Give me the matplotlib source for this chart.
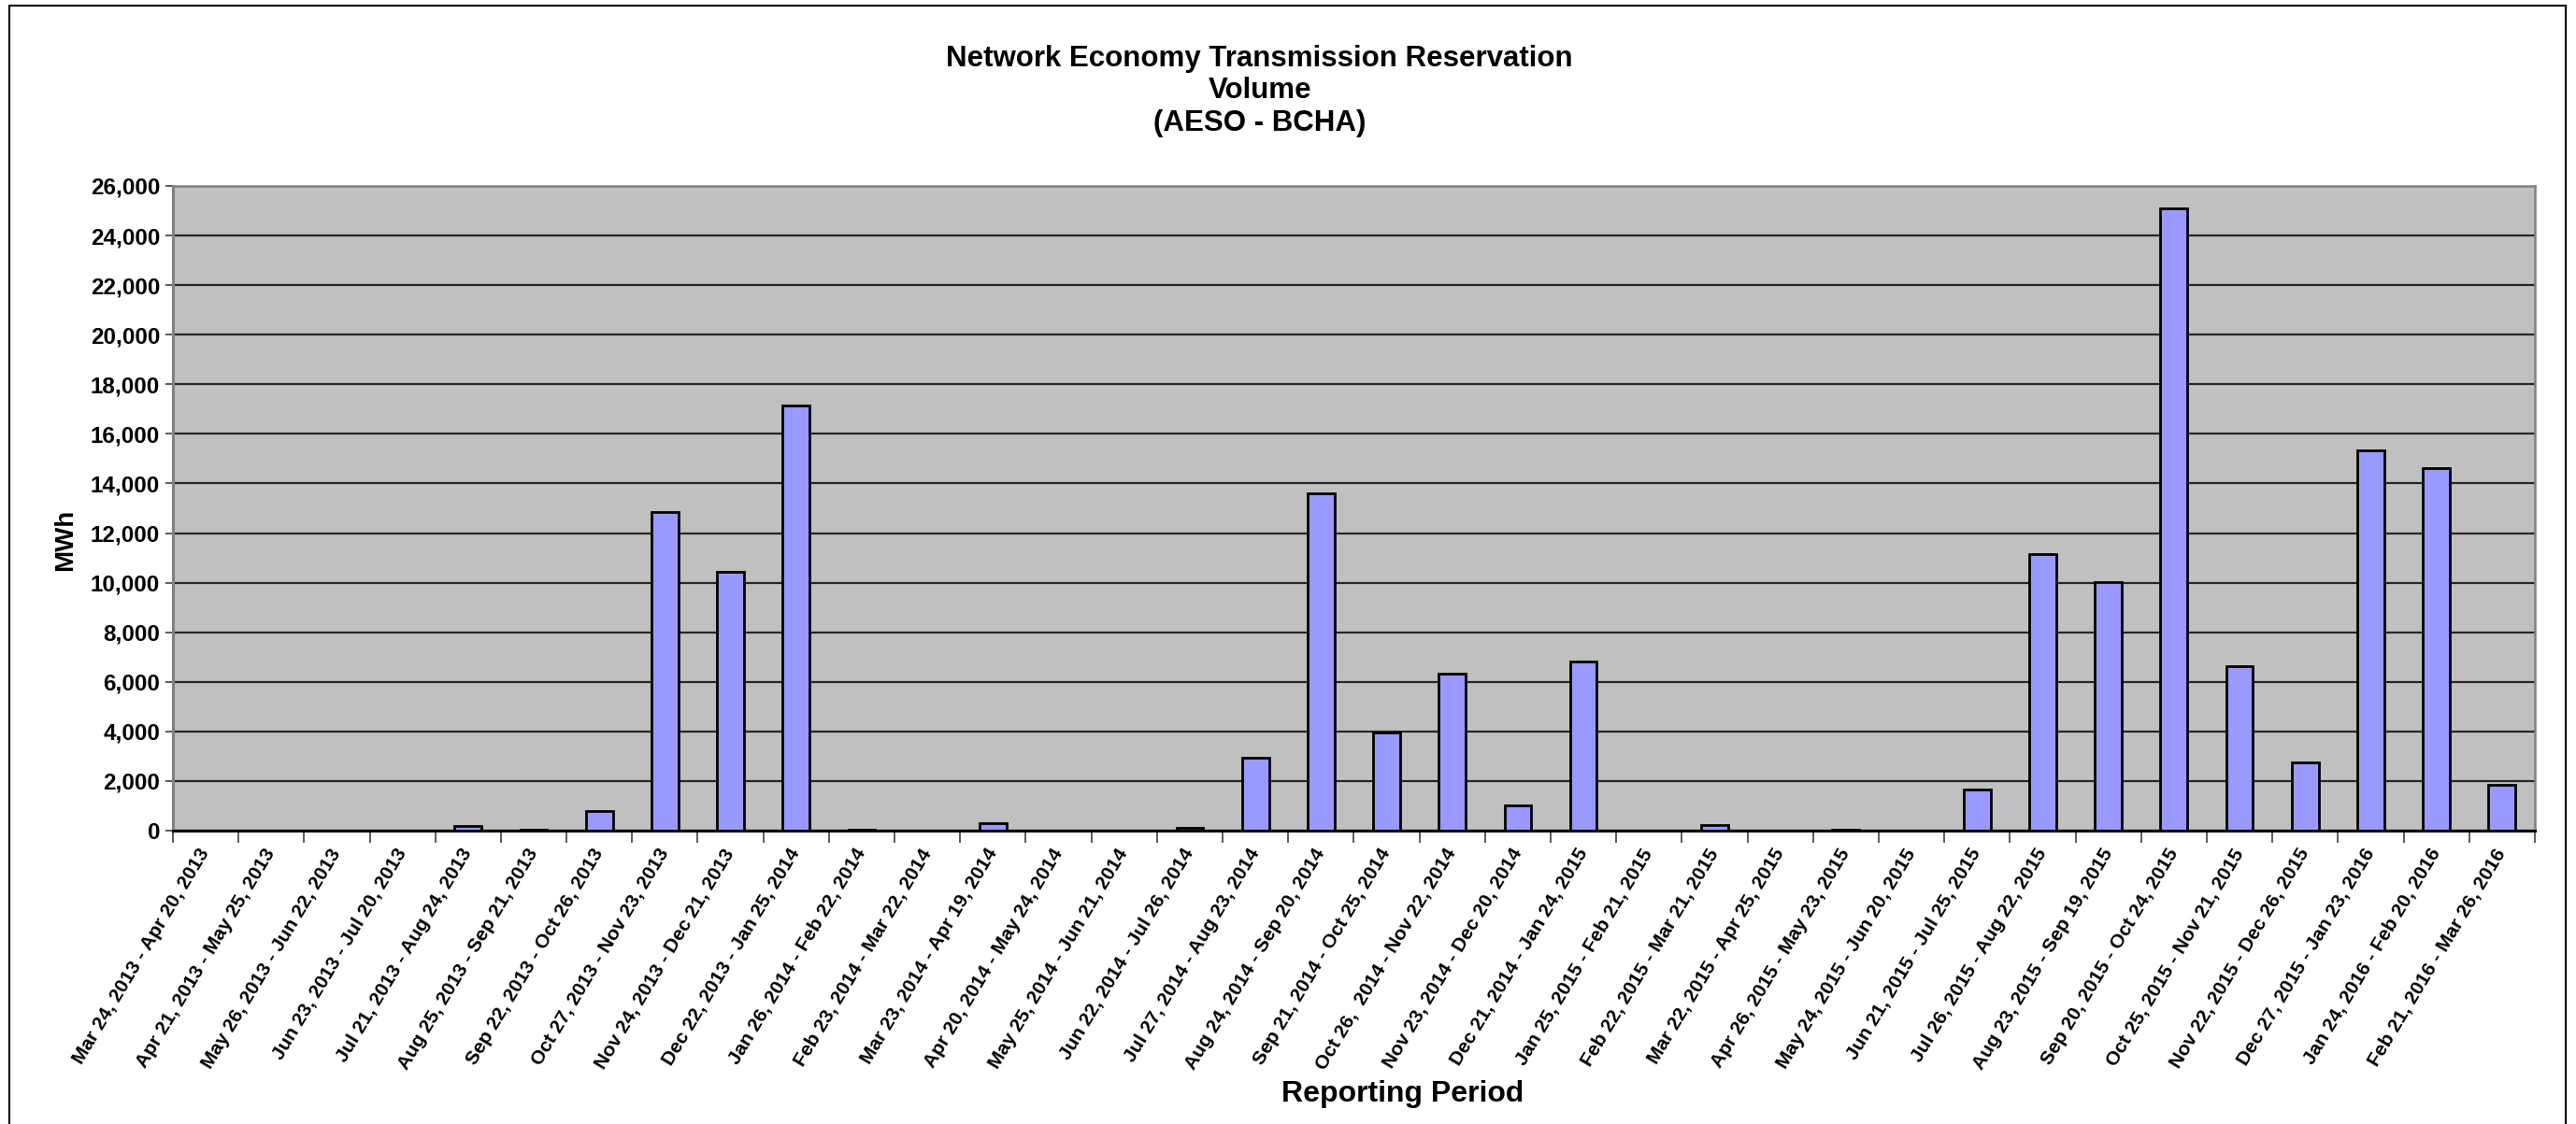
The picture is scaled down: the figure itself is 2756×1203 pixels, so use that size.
import matplotlib
matplotlib.use("Agg")
from matplotlib import pyplot as plt
from matplotlib.patches import Rectangle
from matplotlib.ticker import FuncFormatter, FixedLocator
import numpy as np

periods = [
    "Mar 24, 2013 - Apr 20, 2013",
    "Apr 21, 2013 - May 25, 2013",
    "May 26, 2013 - Jun 22, 2013",
    "Jun 23, 2013 - Jul 20, 2013",
    "Jul 21, 2013 - Aug 24, 2013",
    "Aug 25, 2013 - Sep 21, 2013",
    "Sep 22, 2013 - Oct 26, 2013",
    "Oct 27, 2013 - Nov 23, 2013",
    "Nov 24, 2013 - Dec 21, 2013",
    "Dec 22, 2013 - Jan 25, 2014",
    "Jan 26, 2014 - Feb 22, 2014",
    "Feb 23, 2014 - Mar 22, 2014",
    "Mar 23, 2014 - Apr 19, 2014",
    "Apr 20, 2014 - May 24, 2014",
    "May 25, 2014 - Jun 21, 2014",
    "Jun 22, 2014 - Jul 26, 2014",
    "Jul 27, 2014 - Aug 23, 2014",
    "Aug 24, 2014 - Sep 20, 2014",
    "Sep 21, 2014 - Oct 25, 2014",
    "Oct 26,  2014 - Nov 22, 2014",
    "Nov 23, 2014 - Dec 20, 2014",
    "Dec 21, 2014 - Jan 24, 2015",
    "Jan 25, 2015 - Feb 21, 2015",
    "Feb 22, 2015 - Mar 21, 2015",
    "Mar 22, 2015 - Apr 25, 2015",
    "Apr 26, 2015 - May 23, 2015",
    "May 24, 2015 - Jun 20, 2015",
    "Jun 21, 2015 - Jul 25, 2015",
    "Jul 26, 2015 - Aug 22, 2015",
    "Aug 23, 2015 - Sep 19, 2015",
    "Sep 20, 2015 - Oct 24, 2015",
    "Oct 25, 2015 - Nov 21, 2015",
    "Nov 22, 2015 - Dec 26, 2015",
    "Dec 27, 2015 - Jan 23, 2016",
    "Jan 24, 2016 - Feb 20, 2016",
    "Feb 21, 2016 - Mar 26, 2016",
]

volume_mwh = [
    0, 0, 0, 0, 190, 50, 780, 12840, 10430, 17140,
    50, 0, 290, 0, 0, 110, 2955, 13610, 3950, 6340,
    1020, 6830, 0, 210, 0, 50, 0, 1645, 11170, 10020,
    25090, 6630, 2755, 15320, 14630, 1835,
]

y_ticks = list(range(0, 26001, 2000))

plt.rcParams["font.family"] = ["Liberation Sans", "DejaVu Sans"]
plt.rcParams["font.weight"] = "bold"

fig = plt.figure(figsize=(27.56, 12.03), dpi=100)
ax = fig.add_axes([0.0671, 0.261, 0.9169, 0.5736])

x = np.arange(len(periods))
ax.set_facecolor("#C0C0C0")
ax.bar(x, volume_mwh, width=0.41, color="#9999FF", edgecolor="black",
       linewidth=2.0, zorder=3)

ax.set_xlim(-0.5, len(periods) - 0.5)
ax.set_ylim(0, 26000)
ax.set_yticks(y_ticks)
ax.yaxis.set_major_formatter(FuncFormatter(lambda v, p: f"{v:,.0f}"))
ax.grid(axis="y", color="#262626", linewidth=1.6, zorder=1)
ax.set_axisbelow(True)

ax.set_xticks(x)
ax.set_xticklabels(periods, rotation=59, ha="right", va="center",
                   rotation_mode="anchor", fontsize=15, fontweight="bold")
ax.xaxis.set_minor_locator(FixedLocator(np.arange(-0.5, len(periods), 1.0)))
ax.tick_params(axis="x", which="major", length=0, pad=15)
ax.tick_params(axis="x", which="minor", length=9, width=1.2, color="#404040")
ax.tick_params(axis="y", length=6, width=1.2, color="#404040",
               labelsize=17.5, pad=4)
for lab in ax.get_yticklabels():
    lab.set_fontweight("bold")

for side in ("top", "right"):
    ax.spines[side].set_color("#808080")
    ax.spines[side].set_linewidth(1.8)
ax.spines["left"].set_color("#808080")
ax.spines["left"].set_linewidth(2.2)
ax.spines["bottom"].set_color("black")
ax.spines["bottom"].set_linewidth(2.2)

fig.text(0.489, 0.919,
         "Network Economy Transmission Reservation\nVolume\n(AESO - BCHA)",
         ha="center", va="center", fontsize=22.5, fontweight="bold",
         linespacing=1.2)
fig.text(0.0254, 0.52, "MWh", rotation=90, ha="center", va="center",
         fontsize=20, fontweight="bold")
fig.text(0.5446, 0.027, "Reporting Period", ha="center", va="center",
         fontsize=23, fontweight="bold")

fig.patches.append(Rectangle((0.0036, -0.01), 0.9925, 1.005,
                             transform=fig.transFigure, fill=False,
                             edgecolor="black", linewidth=1.5))

fig.savefig("out.png", dpi=100)
